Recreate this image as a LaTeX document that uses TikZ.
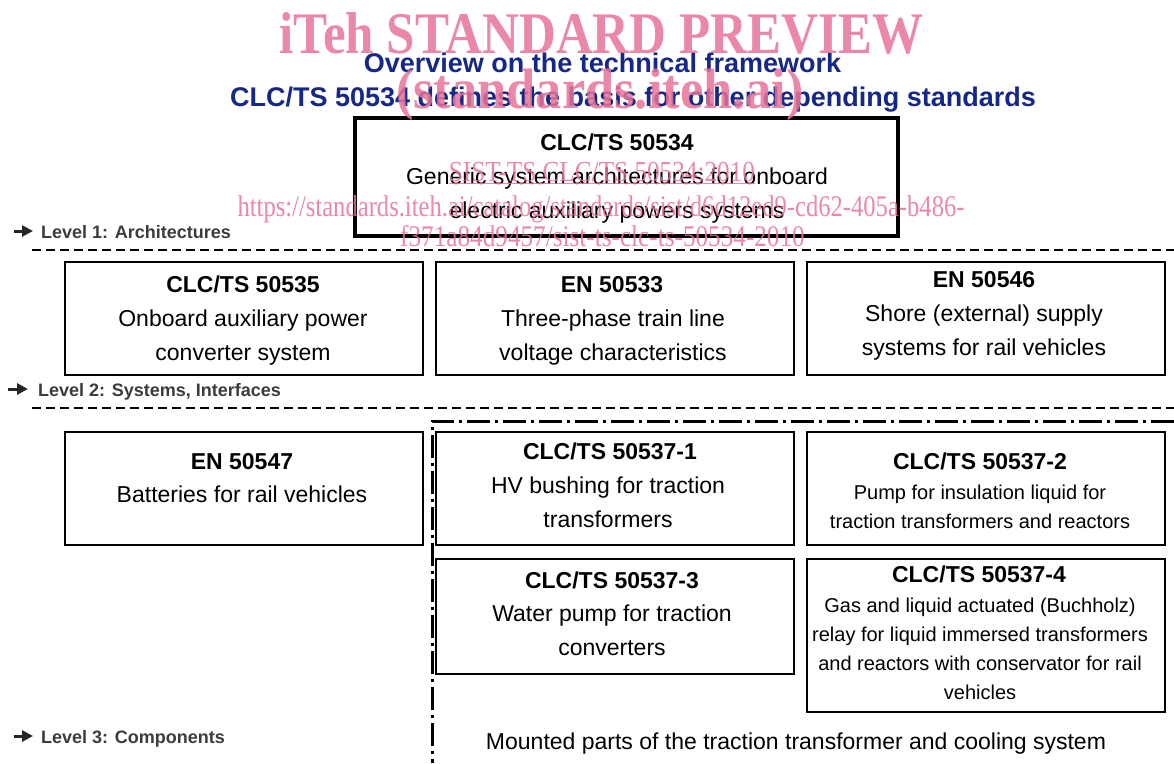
\documentclass[tikz,border=0pt]{standalone}
\usepackage{fontspec}
\setmainfont{Liberation Sans}
\newfontfamily\wmfont{Liberation Serif}
\usetikzlibrary{arrows.meta}
\definecolor{titleblue}{RGB}{22,40,135}
\definecolor{wmpink}{RGB}{232,115,152}
\definecolor{lvlgray}{RGB}{60,60,60}
\newcommand{\fsz}[2]{\fontsize{#1}{#2}\selectfont}
\newcommand{\stT}{\rule{0pt}{17pt}}
\newcommand{\stB}{\rule[-5pt]{0pt}{5pt}}
\newcommand{\stt}{\rule{0pt}{15pt}}
\newcommand{\stb}{\rule[-4pt]{0pt}{4pt}}
\tikzset{
  stdbox/.style={draw=black, line width=2pt, rectangle, inner sep=0pt, outer sep=0pt},
  boxtitle/.style={anchor=base, inner sep=0pt, font=\fsz{23}{34}\bfseries},
  boxbody/.style={anchor=center, inner sep=0pt, align=center, font=\fsz{23}{34}},
  boxsmall/.style={anchor=center, inner sep=0pt, align=center, font=\fsz{20}{29}},
  lvltext/.style={anchor=base west, inner sep=0pt, text=lvlgray, font=\fsz{18}{22}\bfseries},
  lvlarrow/.style={draw=black!85, line width=3pt, -{Triangle[length=11pt,width=11pt]}},
  levelline/.style={draw=black, line width=2pt, dash pattern=on 9pt off 5pt},
  groupline/.style={draw=black, line width=3pt, dash pattern=on 23pt off 5pt on 3pt off 5pt},
  wm/.style={anchor=base, inner sep=0pt, text=wmpink, text opacity=0.85},
  maintitle/.style={anchor=base, inner sep=0pt, text=titleblue, font=\fsz{27}{32}\bfseries}
}
\begin{document}
\begin{tikzpicture}[x=1pt,y=-1pt]
\useasboundingbox[fill=white] (0,0) rectangle (1174,763);

% titles
\node[maintitle] (t1) at (602.5,72) {Overview on the technical framework};
\node[maintitle] (t2) at (633,106) {CLC/TS 50534 defines the basis for other depending standards};

% level 1 box
\node[stdbox, line width=3.5pt, minimum width=543, minimum height=118] (top) at (626.5,177) {};
\node[boxtitle] (topT) at (617,150) {CLC/TS 50534};
\node[boxbody] (topB) at (617,195) {\stT Generic system architectures for onboard\\electric auxiliary powers systems\stB};

% level labels and lines
\coordinate (a1s) at (14,231); \coordinate (a1e) at (33,231);
\draw[lvlarrow] (a1s) -- (a1e);
\node[lvltext] (l1) at (41,238) {Level 1: Architectures};
\coordinate (d1s) at (32,250); \coordinate (d1e) at (1174,250);
\draw[levelline] (d1s) -- (d1e);

\coordinate (a2s) at (8,389); \coordinate (a2e) at (28,389);
\draw[lvlarrow] (a2s) -- (a2e);
\node[lvltext] (l2) at (38,396) {Level 2: Systems, Interfaces};
\coordinate (d2s) at (32,408); \coordinate (d2e) at (1174,408);
\draw[levelline] (d2s) -- (d2e);

\coordinate (a3s) at (14,736); \coordinate (a3e) at (33,736);
\draw[lvlarrow] (a3s) -- (a3e);
\node[lvltext] (l3) at (41,743) {Level 3: Components};

% level 2 boxes
\node[stdbox, minimum width=358, minimum height=113] (A) at (244,318.5) {};
\node[boxtitle] (AT) at (243,292) {CLC/TS 50535};
\node[boxbody] (AB) at (243,337) {\stT Onboard auxiliary power\\converter system\stB};

\node[stdbox, minimum width=358, minimum height=113] (B) at (615,318.5) {};
\node[boxtitle] (BT) at (612,292) {EN 50533};
\node[boxbody] (BB) at (613,337) {\stT Three-phase train line\\voltage characteristics\stB};

\node[stdbox, minimum width=358, minimum height=113] (C) at (986,318.5) {};
\node[boxtitle] (CT) at (984,287) {EN 50546};
\node[boxbody] (CB) at (984,332) {\stT Shore (external) supply\\systems for rail vehicles\stB};

% group frame (dash-dot)
\coordinate (g1) at (1174,421); \coordinate (g2) at (432,421); \coordinate (g3) at (432,763);
\draw[groupline] (g1) -- (g2) -- (g3);

% level 3 boxes
\node[stdbox, minimum width=358, minimum height=113] (D) at (244,488.5) {};
\node[boxtitle] (DT) at (242,469) {EN 50547};
\node[boxtitle, font=\fsz{23}{34}] (DB) at (242,502) {Batteries for rail vehicles};

\node[stdbox, minimum width=358, minimum height=113] (E) at (615,488.5) {};
\node[boxtitle] (ET) at (610,459) {CLC/TS 50537-1};
\node[boxbody] (EB) at (608,504) {\stT HV bushing for traction\\transformers\stB};

\node[stdbox, minimum width=358, minimum height=113] (F) at (986,488.5) {};
\node[boxtitle] (FT) at (980,469) {CLC/TS 50537-2};
\node[boxsmall] (FB) at (980,508) {\stt Pump for insulation liquid for\\traction transformers and reactors\stb};

\node[stdbox, minimum width=358, minimum height=115] (G) at (615,616.5) {};
\node[boxtitle] (GT) at (612,588) {CLC/TS 50537-3};
\node[boxbody] (GB) at (612,632) {\stT Water pump for traction\\converters\stB};

\node[stdbox, minimum width=358, minimum height=153] (H) at (986,635.5) {};
\node[boxtitle] (HT) at (979,582) {CLC/TS 50537-4};
\node[boxsmall] (HB) at (980,650) {\stt Gas and liquid actuated (Buchholz)\\relay for liquid immersed transformers\\and reactors with conservator for rail\\vehicles\stb};

\node[boxtitle, font=\fsz{23}{34}] (mp) at (796,749) {Mounted parts of the traction transformer and cooling system};

% watermark
\node[wm, font=\wmfont\bfseries\fsz{59}{60}, xscale=0.865] (w1) at (601.5,53) {iTeh STANDARD PREVIEW};
\node[wm, font=\wmfont\bfseries\fsz{57}{60}, xscale=0.92] (w2) at (600,108) {(standards.iteh.ai)};
\node[wm, font=\wmfont\fsz{29}{30}, xscale=0.87] (w3) at (602,181) {\underline{SIST-TS CLC/TS 50534:2010}};
\node[wm, font=\wmfont\fsz{30}{30}, xscale=0.82] (w4) at (601,216) {https://standards.iteh.ai/catalog/standards/sist/d6d12ed9-cd62-405a-b486-};
\node[wm, font=\wmfont\fsz{30}{30}, xscale=0.84] (w5) at (602.5,246) {f371a84d9457/sist-ts-clc-ts-50534-2010};
\end{tikzpicture}
\end{document}
